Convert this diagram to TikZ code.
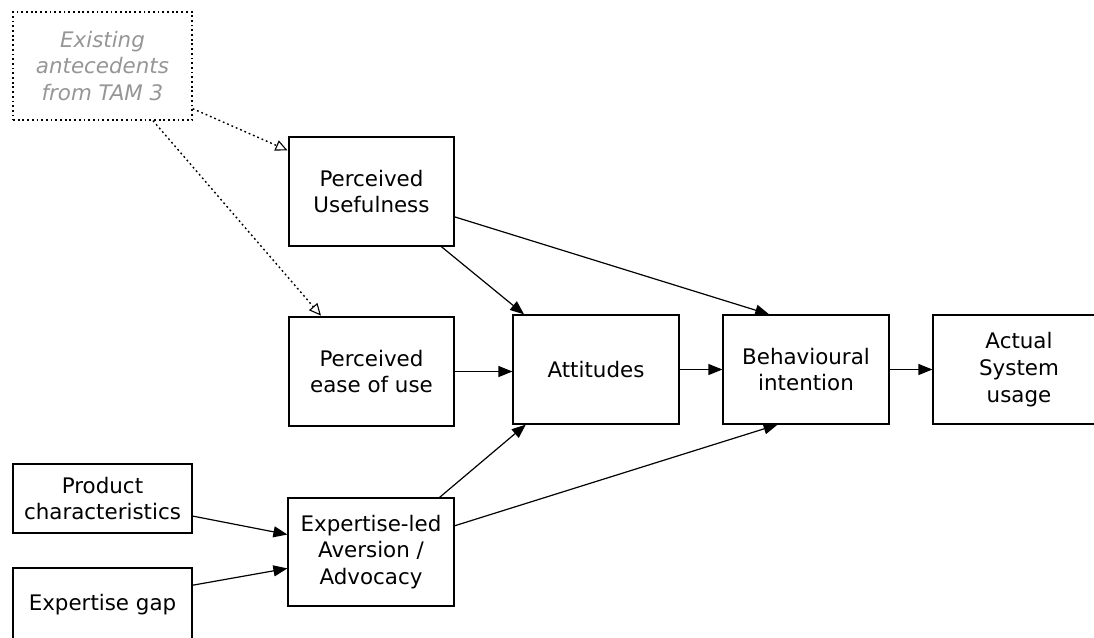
\documentclass[tikz,border=0pt]{standalone}
\usepackage{fontspec}
\setmainfont{DejaVu Sans}
\usetikzlibrary{arrows.meta,calc}
\definecolor{notegrey}{RGB}{150,150,150}
\begin{document}
\begin{tikzpicture}[x=1pt,y=-1pt,
  every node/.style={font=\fontsize{21.4}{26.7}\selectfont},
  box/.style={draw=black,line width=1.2pt,rectangle,inner sep=0pt,align=center,
    minimum width=#1},
  box/.default=165pt,
  notebox/.style={draw=black,line width=1.4pt,dash pattern=on 1.8pt off 2.9pt,
    rectangle,inner sep=0pt,align=center,minimum width=179pt,minimum height=108pt,
    text=notegrey,font=\fontsize{21.4}{26.7}\selectfont\itshape},
  link/.style={line width=1.2pt,-{Triangle[length=14pt,width=11pt]}},
  hint/.style={line width=1.4pt,dash pattern=on 1.8pt off 2.9pt,
    -{Triangle[open,length=12pt,width=11pt,line width=1.1pt,sep=1pt]}}
]
\useasboundingbox (0,0) rectangle (1094,637);
\clip (0,0) rectangle (1094,637);

% boxes
\node[notebox] (ex) at (102.5,66) {Existing\\antecedents\\from TAM 3};
\node[box,minimum height=109pt] (pu) at (371.5,191.5) {Perceived\\Usefulness};
\node[box,minimum height=109pt] (peou) at (371.5,371.5) {Perceived\\ease of use};
\node[box=166pt,minimum height=109pt] (att) at (596,369.5) {Attitudes};
\node[box=166pt,minimum height=109pt] (bi) at (806,369.5) {Behavioural\\intention};
\node[box=172pt,minimum height=109pt] (asu) at (1019,369.5) {Actual\\System\\usage};
\node[box=179pt,minimum height=69pt] (pc) at (102.5,498.5) {Product\\characteristics};
\node[box=179pt,minimum height=73pt] (gap) at (102.5,604.5) {Expertise gap};
\node[box=166pt,minimum height=108pt] (el) at (371,552) {Expertise-led\\Aversion /\\Advocacy};

% links from the existing antecedents
\draw[hint] ($(ex.north east)!0.89!(ex.south east)$) -- ($(pu.north west)!0.13!(pu.south west)$);
\draw[hint] ($(ex.south west)!0.78!(ex.south east)$) -- ($(peou.north west)!0.2!(peou.north east)$);

% main model
\draw[link] ($(pu.south west)!0.92!(pu.south east)$) -- ($(att.north west)!0.07!(att.north east)$);
\draw[link] ($(pu.north east)!0.73!(pu.south east)$) -- ($(bi.north west)!0.28!(bi.north east)$);
\draw[link] (peou.east) -- (peou.east -| att.west);
\draw[link] (att.east) -- (att.east -| bi.west);
\draw[link] (bi.east) -- (bi.east -| asu.west);

% expertise extension
\draw[link] ($(el.north west)!0.91!(el.north east)$) -- ($(att.south west)!0.08!(att.south east)$);
\draw[link] ($(el.north east)!0.26!(el.south east)$) -- ($(bi.south west)!0.33!(bi.south east)$);
\draw[link] ($(pc.north east)!0.75!(pc.south east)$) -- ($(el.north west)!0.34!(el.south west)$);
\draw[link] ($(gap.north east)!0.24!(gap.south east)$) -- ($(el.north west)!0.65!(el.south west)$);
\end{tikzpicture}
\end{document}
